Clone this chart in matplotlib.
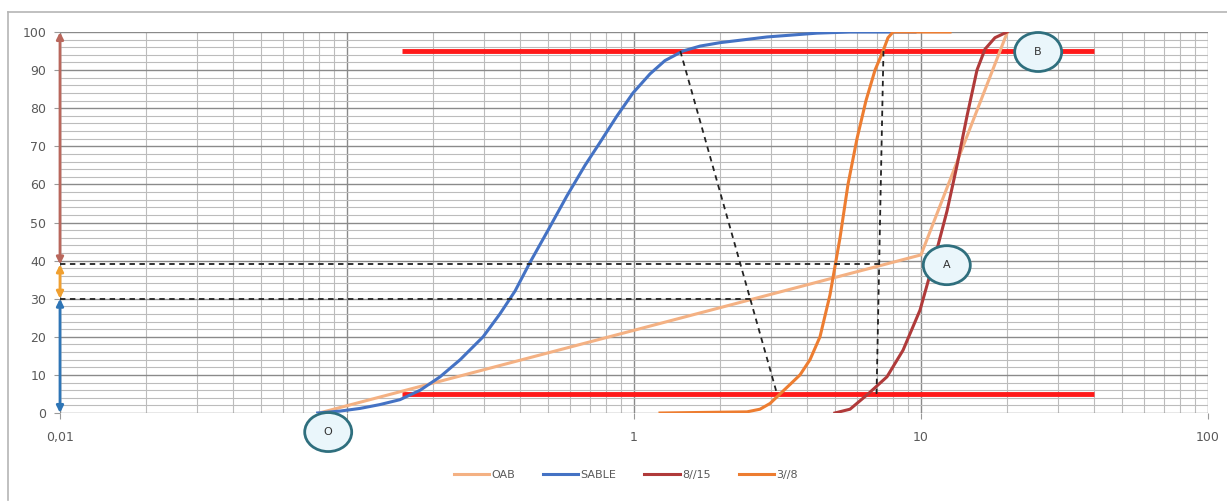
import numpy as np
import matplotlib.pyplot as plt
from matplotlib.patches import Ellipse
from matplotlib.transforms import ScaledTranslation
from matplotlib.ticker import LogLocator, MultipleLocator, FuncFormatter, NullFormatter

# Granulometric curves (size in mm, passing %)
oab_x = [0.08, 10.0, 20.0]
oab_y = [0, 41.5, 100]

sable_x = [0.079, 0.0945, 0.111, 0.130, 0.153, 0.180, 0.211, 0.248, 0.298, 0.341,
           0.385, 0.434, 0.502, 0.584, 0.675, 0.761, 0.873, 0.992, 1.137, 1.282,
           1.481, 1.698, 1.994, 2.907, 4.342, 5.657, 9.53]
sable_y = [0, 0.5, 1.2, 2.2, 3.5, 6, 9.5, 14, 20, 26,
           32, 39.5, 48, 57, 65, 71, 78, 84, 89, 92.5,
           95, 96.3, 97.2, 98.7, 99.7, 100, 100]

g815_x = [5.01, 5.66, 6.54, 7.61, 8.66, 9.92, 11.19, 12.32, 13.35, 14.47,
          15.67, 16.71, 18.10, 19.94]
g815_y = [0, 1, 5, 9.5, 16.5, 27, 41, 53, 65, 78,
          90, 95.5, 98.5, 100]

g38_x = [1.232, 2.476, 2.748, 2.978, 3.227, 3.497, 3.788, 4.105, 4.447, 4.818,
         5.222, 5.567, 5.984, 6.432, 6.915, 7.374, 7.674, 7.989, 12.62]
g38_y = [0, 0.3, 1, 2.5, 5, 7.5, 10, 14, 20, 31,
         46, 60, 72, 82, 90, 95, 98.5, 100, 100]

# Limits (5 % and 95 %)
limit_x = [0.155, 40.0]
limit_lo, limit_hi = 5, 95

# Construction lines
slant_x, slant_y = [1.45, 3.15], [95, 5]
vert_x, vert_y = [7.4, 7.0], [95, 5]
h39_x, h39_y = [0.01, 7.15], [39, 39]
h30_x, h30_y = [0.01, 2.55], [30, 30]

# Circled points: label, x, y
points = [("O", 0.086, -5), ("A", 12.3, 38.8), ("B", 25.6, 94.75)]

fig = plt.figure(figsize=(12.27, 5.04), dpi=100)
ax = fig.add_axes([60 / 1227, 1 - 413 / 504, 1148 / 1227, 381 / 504])

ax.set_xscale('log')
ax.set_xlim(0.01, 100)
ax.set_ylim(0, 100)
ax.xaxis.set_major_locator(LogLocator(base=10))
ax.xaxis.set_minor_locator(LogLocator(base=10, subs=np.arange(2, 10)))
# the 0,1 label sits under the O circle
ax.xaxis.set_major_formatter(FuncFormatter(
    lambda v, p: '' if abs(v - 0.1) < 1e-9 else ('%g' % v).replace('.', ',')))
ax.xaxis.set_minor_formatter(NullFormatter())
ax.yaxis.set_major_locator(MultipleLocator(10))
ax.yaxis.set_minor_locator(MultipleLocator(2))
ax.grid(which='major', color='#8a8a8a', lw=1.0)
ax.grid(which='minor', color='#bcbcbc', lw=0.8)
ax.set_axisbelow(True)
for s in ax.spines.values():
    s.set_visible(False)
ax.tick_params(which='minor', length=0)
ax.tick_params(axis='x', which='major', length=4, pad=9, color='#999999',
               labelsize=9, labelcolor='#595959')
ax.tick_params(axis='y', which='major', length=4, pad=6, color='#999999',
               labelsize=9, labelcolor='#595959')

# 5 % / 95 % limits
ax.plot(limit_x, [limit_hi] * 2, color='#ff1a1a', lw=3.5, solid_capstyle='butt', zorder=3)
ax.plot(limit_x, [limit_lo] * 2, color='#ff1a1a', lw=3.5, solid_capstyle='butt', zorder=3)

# curves
ax.plot(oab_x, oab_y, color='#f4b183', lw=2.2, label='OAB', zorder=4)
ax.plot(sable_x, sable_y, color='#4472c4', lw=2.2, label='SABLE', zorder=4)
ax.plot(g815_x, g815_y, color='#b03a3a', lw=2.2, label='8//15', zorder=4)
ax.plot(g38_x, g38_y, color='#ed7d31', lw=2.2, label='3//8', zorder=4)

# construction lines
for xs, ys in [(slant_x, slant_y), (vert_x, vert_y), (h39_x, h39_y), (h30_x, h30_y)]:
    ax.plot(xs, ys, color='#222222', lw=1.3, ls=(0, (3, 2.5)), zorder=5)

# arrows on the left axis
for y0, y1, c in [(39, 100, '#b9675c'), (30, 39, '#f0a030'), (0, 30, '#2e75b6')]:
    ax.annotate('', xy=(0.01, y1), xytext=(0.01, y0), annotation_clip=False,
                arrowprops=dict(arrowstyle='<|-|>', color=c, lw=2,
                                shrinkA=0, shrinkB=0, mutation_scale=10), zorder=6)

# circled points
for lab, px, py in points:
    tr = fig.dpi_scale_trans + ScaledTranslation(px, py, ax.transData)
    e = Ellipse((0, 0), 0.47, 0.39, transform=tr, facecolor='#eaf6fb',
                edgecolor='#2f6f7e', lw=2, clip_on=False, zorder=7)
    ax.add_patch(e)
    ax.text(px, py, lab, ha='center', va='center', fontsize=8, color='#333333',
            clip_on=False, zorder=8)

ax.legend(loc='center', bbox_to_anchor=(0.51, 0.0575), bbox_transform=fig.transFigure,
          ncol=4, frameon=False, fontsize=8, handlelength=3.2, columnspacing=2.5,
          handletextpad=0.2, labelcolor='#595959')

# chart area border (top and left)
fig.add_artist(plt.Line2D([8 / 1227, 1], [1 - 12 / 504] * 2, transform=fig.transFigure,
                          color='#b5b5b5', lw=1.2))
fig.add_artist(plt.Line2D([8 / 1227] * 2, [1 - 12 / 504, 4 / 504], transform=fig.transFigure,
                          color='#b5b5b5', lw=1.2))

fig.savefig('out.png', dpi=100)
